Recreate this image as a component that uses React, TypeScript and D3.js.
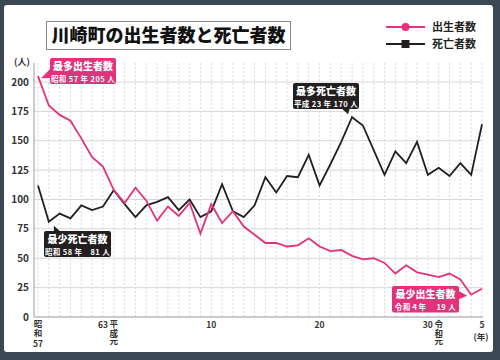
import React from "react";
import * as d3 from "d3";

const years: string[] = [
  "S57","S58","S59","S60","S61","S62","S63",
  "H1","H2","H3","H4","H5","H6","H7","H8","H9","H10","H11","H12","H13","H14","H15","H16","H17","H18","H19","H20","H21","H22","H23","H24","H25","H26","H27","H28","H29","H30",
  "R1","R2","R3","R4","R5"
];
const births: number[] = [205,180,172,167,152,136,128,108,97,110,99,82,94,86,97,71,96,80,90,77,70,63,63,60,61,67,60,56,57,52,49,50,46,37,44,38,36,34,37,32,19,24];
const deaths: number[] = [112,81,88,84,95,91,94,108,96,85,95,98,102,91,100,85,90,113,90,85,95,119,106,120,119,138,112,130,149,170,163,142,121,141,131,149,121,127,120,131,121,164];
const yTicks: number[] = [0,25,50,75,100,125,150,175,200];
// vertical: stacked era name; num: horizontal number under/at tick
const xLabels: { year: string; vertical: string; num: string }[] = [
  { year: "S57", vertical: "昭和", num: "57" },
  { year: "S63", vertical: "", num: "63" },
  { year: "H1", vertical: "平成元", num: "" },
  { year: "H10", vertical: "", num: "10" },
  { year: "H20", vertical: "", num: "20" },
  { year: "H30", vertical: "", num: "30" },
  { year: "R1", vertical: "令和元", num: "" },
  { year: "R5", vertical: "", num: "5" },
];
const title = "川崎町の出生者数と死亡者数";
const seriesNames = ["出生者数", "死亡者数"];

const PINK = "#e2327c";
const DARK = "#231f20";
const FONT = "'Noto Sans CJK JP', 'Noto Sans', sans-serif";

export default function App() {
  const W = 500, H = 360;
  const x = d3.scalePoint<string>().domain(years).range([38, 482]);
  const y = d3.scaleLinear().domain([0, 200]).range([317, 82]);
  const plotTop = 63;
  const line = d3.line<number>().x((_, i) => x(years[i]) as number).y((d) => y(d));

  const bx = (i: number) => x(years[i]) as number;

  return (
    <svg width={W} height={H} style={{ position: "absolute", left: 0, top: 0, fontFamily: FONT }}>
      <rect x={0} y={0} width={W} height={H} fill="#3b4853" />
      <rect x={4} y={5} width={489} height={347} rx={3} fill="#ffffff" />
      {/* title */}
      <rect x={46.5} y={21.5} width={244} height={28} fill="#fff" stroke="#8a8a8a" strokeWidth={1} />
      <text x={168.5} y={42} textAnchor="middle" fontSize={18} fontWeight={900} fill="#111">{title}</text>
      {/* legend */}
      <line x1={386} x2={425} y1={27} y2={27} stroke={PINK} strokeWidth={2} />
      <circle cx={405.5} cy={27} r={4} fill={PINK} />
      <text x={432} y={31} fontSize={11} fontWeight={700} fill="#222">{seriesNames[0]}</text>
      <line x1={386} x2={425} y1={44} y2={44} stroke={DARK} strokeWidth={2} />
      <rect x={401.5} y={40} width={8} height={8} fill={DARK} />
      <text x={432} y={48} fontSize={11} fontWeight={700} fill="#222">{seriesNames[1]}</text>

      {/* vertical dashed grid */}
      {years.map((yr) => (
        <line key={yr} x1={x(yr)} x2={x(yr)} y1={plotTop} y2={317} stroke="#cfcfcf" strokeWidth={0.8} strokeDasharray="2,2" />
      ))}
      {/* horizontal grid */}
      {yTicks.filter((t) => t > 0).map((t) => (
        <line key={t} x1={34} x2={482} y1={y(t)} y2={y(t)} stroke="#d6d6d6" strokeWidth={1} />
      ))}
      {/* axes */}
      <line x1={34} x2={34} y1={plotTop} y2={317} stroke="#9a9a9a" strokeWidth={1} />
      <line x1={34} x2={483} y1={317} y2={317} stroke="#9a9a9a" strokeWidth={1} />
      {yTicks.map((t) => (
        <text key={t} x={29} y={y(t) + 3.5} textAnchor="end" fontSize={10} fontWeight={700} fill="#333">{t}</text>
      ))}
      <text x={22} y={65} textAnchor="middle" fontSize={9} fontWeight={700} fill="#333">(人)</text>
      {xLabels.map((l) => {
        const cx = x(l.year) as number;
        const vLen = l.vertical.length;
        return (
          <g key={l.year}>
            {vLen > 0 && (
              <text x={cx} y={320} writingMode="vertical-rl" fontSize={8.5} fontWeight={700} fill="#333" style={{ writingMode: "vertical-rl" } as any}>{l.vertical}</text>
            )}
            {l.num && (
              <text x={cx} y={vLen > 0 ? 346.5 : 328} textAnchor="middle" fontSize={8.5} fontWeight={700} fill="#333">{l.num}</text>
            )}
          </g>
        );
      })}
      <text x={481} y={340} textAnchor="middle" fontSize={8.5} fontWeight={700} fill="#333">(年)</text>

      {/* series */}
      <path d={line(deaths) || ""} fill="none" stroke={DARK} strokeWidth={1.8} strokeLinejoin="miter" />
      <path d={line(births) || ""} fill="none" stroke={PINK} strokeWidth={1.8} strokeLinejoin="miter" />

      {/* annotations */}
      <g>
        <polygon points={`51,68 51,78 ${bx(0) + 3},${y(births[0]) + 2}`} fill={PINK} />
        <rect x={50} y={58} width={66} height={26} rx={2} fill={PINK} />
        <text x={83} y={70} textAnchor="middle" fontSize={10} fontWeight={900} fill="#fff">最多出生者数</text>
        <text x={83} y={82} textAnchor="middle" fontSize={7.5} fontWeight={700} fill="#fff" letterSpacing={0.4}>昭和 57 年 205 人</text>
      </g>
      <g>
        <polygon points={`340,107 350,107 ${bx(29) - 4},${y(deaths[29]) - 3}`} fill={DARK} />
        <rect x={293} y={83} width={66} height={26} rx={2} fill={DARK} />
        <text x={326} y={95} textAnchor="middle" fontSize={10} fontWeight={900} fill="#fff">最多死亡者数</text>
        <text x={326} y={107} textAnchor="middle" fontSize={7.5} fontWeight={700} fill="#fff" letterSpacing={0.4}>平成 23 年 170 人</text>
      </g>
      <g>
        <polygon points={`54,233 62,233 ${bx(1) + 5},${y(deaths[1]) + 4}`} fill={DARK} />
        <rect x={44} y={231} width={67} height={26} rx={2} fill={DARK} />
        <text x={77.5} y={243} textAnchor="middle" fontSize={10} fontWeight={900} fill="#fff">最少死亡者数</text>
        <text x={77.5} y={255} textAnchor="middle" fontSize={7.5} fontWeight={700} fill="#fff" letterSpacing={0.4}>昭和 58 年　81 人</text>
      </g>
      <g>
        <polygon points={`457,290 457,300 ${bx(40) - 4},${y(births[40]) + 1}`} fill={PINK} />
        <rect x={392} y={286} width={67} height={26.5} rx={2} fill={PINK} />
        <text x={425.5} y={298} textAnchor="middle" fontSize={10} fontWeight={900} fill="#fff">最少出生者数</text>
        <text x={425.5} y={310} textAnchor="middle" fontSize={7.5} fontWeight={700} fill="#fff" letterSpacing={0.4}>令和４年　 19 人</text>
      </g>
    </svg>
  );
}
